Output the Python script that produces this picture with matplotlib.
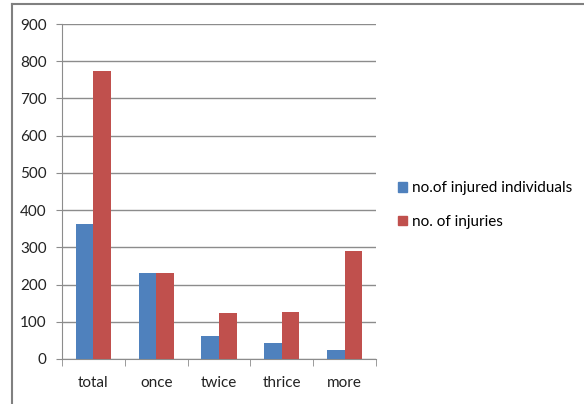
#!/usr/bin/env python3
"""Grouped bar chart of injured individuals vs. number of injuries."""
import numpy as np
import matplotlib.pyplot as plt
from matplotlib.lines import Line2D
from matplotlib.patches import Patch

categories = ['total', 'once', 'twice', 'thrice', 'more']
injured_individuals = [362, 232, 62, 42, 25]
injuries = [775, 232, 123, 125, 291]
series_labels = ['no.of injured individuals', 'no. of injuries']

blue = '#4F81BD'
red = '#C0504D'
grid_gray = '#8C8C8C'

plt.rcParams['font.family'] = ['Lato', 'DejaVu Sans']

fig = plt.figure(figsize=(5.84, 4.04), dpi=100)
ax = fig.add_axes([62 / 584, 45 / 404, 314 / 584, 335 / 404])

x = np.arange(len(categories))
width = 0.28
ax.bar(x - width / 2, injured_individuals, width, color=blue, zorder=3)
ax.bar(x + width / 2, injuries, width, color=red, zorder=3)

ax.set_xlim(-0.5, len(categories) - 0.5)
ax.set_ylim(0, 900)
ax.set_yticks(np.arange(0, 901, 100))
ax.yaxis.grid(True, color=grid_gray, linewidth=1.0, zorder=0)

# category labels centred, tick marks on the group boundaries
ax.set_xticks(x)
ax.set_xticklabels(categories)
ax.set_xticks(np.arange(-0.5, len(categories)), minor=True)
ax.tick_params(axis='x', which='major', length=0, pad=12, labelsize=11, colors='#222222')
ax.tick_params(axis='x', which='minor', length=5, color=grid_gray)
ax.tick_params(axis='y', length=4, color=grid_gray, pad=7, labelsize=11, colors='#222222')
ax.tick_params(axis='y', colors=grid_gray, labelcolor='#222222')

for side in ['top', 'right']:
    ax.spines[side].set_visible(False)
for side in ['left', 'bottom']:
    ax.spines[side].set_color(grid_gray)

handles = [Patch(color=blue), Patch(color=red)]
fig.legend(handles, series_labels, loc='center left',
           bbox_to_anchor=(398 / 584, 1 - 205 / 404), frameon=False,
           handlelength=0.6, handleheight=0.6, handletextpad=0.3,
           labelspacing=1.3, fontsize=11, borderpad=0, borderaxespad=0)

# outer frame: left and top edges only
fig.add_artist(Line2D([12 / 584, 12 / 584], [0, 1 - 4 / 404], color='#808080',
                      linewidth=1.5, transform=fig.transFigure))
fig.add_artist(Line2D([12 / 584, 1], [1 - 4 / 404, 1 - 4 / 404], color='#808080',
                      linewidth=1.5, transform=fig.transFigure))

fig.savefig('out.png', dpi=100)
